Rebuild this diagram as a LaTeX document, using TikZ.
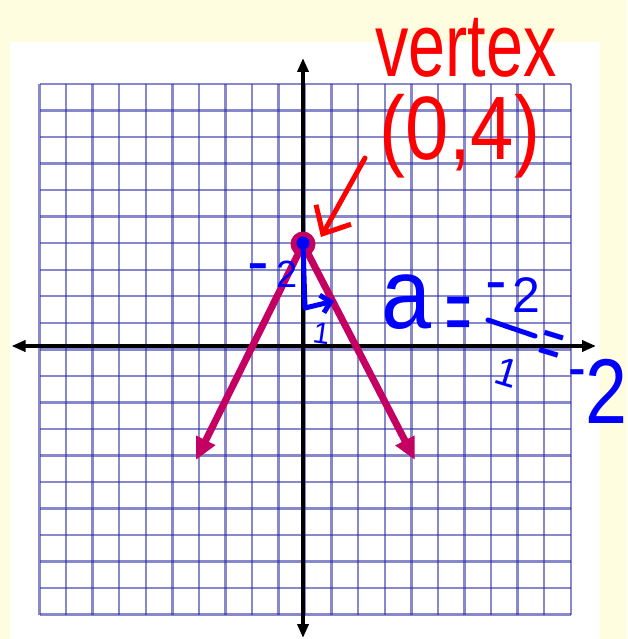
\documentclass[tikz,border=0pt]{standalone}
\usepackage{fontspec}
\setmainfont{Liberation Sans}
\usetikzlibrary{arrows.meta}
\definecolor{bgyellow}{RGB}{255,253,224}
\definecolor{gridblue}{RGB}{40,40,165}
\definecolor{magline}{RGB}{196,0,98}
\definecolor{inkred}{RGB}{255,0,0}
\definecolor{inkblue}{RGB}{0,0,255}
\tikzset{
  gridline/.style={draw=gridblue, line width=2.4pt, draw opacity=0.55},
  axisline/.style={draw=black, line width=4pt,
    {Triangle[length=14pt,width=11pt]}-{Triangle[length=14pt,width=11pt]}},
  graphline/.style={draw=magline, line width=7pt, -{Triangle[length=22pt,width=20pt]}},
  redink/.style={draw=inkred, line width=5pt, line cap=round, line join=round},
  blueink/.style={draw=inkblue, line width=5pt, line cap=round, line join=round},
  redtext/.style={text=inkred, inner sep=0pt},
  bluetext/.style={text=inkblue, inner sep=0pt},
  vertexdot/.style={circle, fill=magline, minimum size=25pt, inner sep=0pt},
  innerdot/.style={circle, fill=inkblue, minimum size=13pt, inner sep=0pt},
}
\newcommand{\handdash}[1]{{\fontsize{65}{65}\selectfont\raisebox{#1}{-}}}
\begin{document}
\begin{tikzpicture}[x=1pt,y=-1pt]
  \useasboundingbox (0,0) rectangle (627,639);
  \fill[bgyellow] (0,0) rectangle (627,639);
  \fill[white] (9.5,42) rectangle (600,639);
  % grid
  \foreach \i in {0,...,20}{
    \draw[gridline] ({39.5+\i*26.56},84) -- ({39.5+\i*26.56},614.7);
    \draw[gridline] (39.5,{84+\i*26.53}) -- (570.7,{84+\i*26.53});
  }
  % axes
  \coordinate (xl) at (11.5,346);
  \coordinate (xr) at (596,346);
  \coordinate (yt) at (303,58);
  \coordinate (yb) at (303,638);
  \draw[axisline] (xl) -- (xr);
  \draw[axisline] (yt) -- (yb);
  % graph
  \coordinate (V) at (303,244);
  \coordinate (L) at (196,460);
  \coordinate (R) at (415,460);
  \draw[graphline] (V) -- (L);
  \draw[graphline] (V) -- (R);
  \node[vertexdot] (Vc) at (V) {};
  % blue slope triangle
  \coordinate (sb) at (305,308);
  \coordinate (se) at (334,301);
  \draw[blueink, -{Straight Barb[length=9pt,width=18pt]}] (Vc.center) -- (sb) -- (se);
  \node[innerdot] (Vd) at (303,243) {};
  \node[bluetext, anchor=base west] (rise) at (247,287)
    {\handdash{4pt}\kern8pt{\fontsize{38}{38}\selectfont 2}};
  \node[bluetext, rotate=-8] (run) at (321.5,333)
    {\fontsize{30}{30}\selectfont 1};
  % red label
  \node[redtext, anchor=base, xscale=0.74] (vtxlabel) at (466,77)
    {\fontsize{90}{90}\selectfont vertex};
  \node[redtext, anchor=base, xscale=0.865] (vcoord) at (460,160)
    {\fontsize{90}{90}\selectfont (0,4)};
  \coordinate (rs) at (365,158);
  \coordinate (rt) at (321,237);
  \draw[redink, -{Straight Barb[length=22pt,width=40pt]}] (rs) -- (rt);
  % slope a
  \node[bluetext, anchor=base, xscale=0.9] (aletter) at (407,328)
    {\fontsize{100}{100}\selectfont a};
  \node[bluetext, anchor=base, yscale=2.1] (eq1) at (459,343)
    {\fontsize{45}{45}\selectfont =};
  \node[bluetext, anchor=base west] (num) at (485,312)
    {\handdash{10pt}\kern6pt{\fontsize{50}{50}\selectfont 2}};
  \coordinate (fb1) at (488,320);
  \coordinate (fb2) at (535,336);
  \draw[blueink] (fb1) -- (fb2);
  \node[bluetext, rotate=-17] (den) at (507.5,372.5)
    {\fontsize{40}{40}\selectfont 1};
  \node[bluetext, rotate=-17, yscale=1.8] (eq2) at (550,350)
    {\fontsize{40}{40}\selectfont =};
  \node[bluetext, anchor=base west, xscale=0.82] (res) at (568,423)
    {\smash{\handdash{34pt}}\kern-1pt{\fontsize{92}{92}\selectfont 2}};
\end{tikzpicture}
\end{document}
